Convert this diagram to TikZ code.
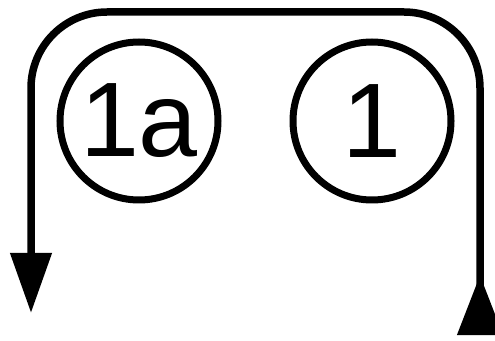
\documentclass[tikz,border=0pt]{standalone}
\usepackage{fontspec}
\setmainfont{Liberation Sans}
\usetikzlibrary{arrows.meta}
\begin{document}
\begin{tikzpicture}[x=1pt,y=1pt,
  numcircle/.style={circle,draw,line width=7pt,inner sep=0pt,minimum size=158pt,font=\fontsize{106}{106}\selectfont},
  loop/.style={line width=7.5pt,rounded corners=76pt}]
\useasboundingbox (0,0) rectangle (495,340);
\clip (0,0) rectangle (495,340);
\node[numcircle] (a) at (139,219) {1a};
\node[numcircle] (b) at (372,219) {1};
\coordinate (rb) at (480,5);
\coordinate (tr) at (480,328);
\coordinate (tl) at (31,328);
\coordinate (lb) at (31,27);
\draw[loop,{Triangle[reversed,width=44pt,length=60pt]}-{Triangle[width=40pt,length=60pt]}] (rb) -- (tr) -- (tl) -- (lb);
\end{tikzpicture}
\end{document}
